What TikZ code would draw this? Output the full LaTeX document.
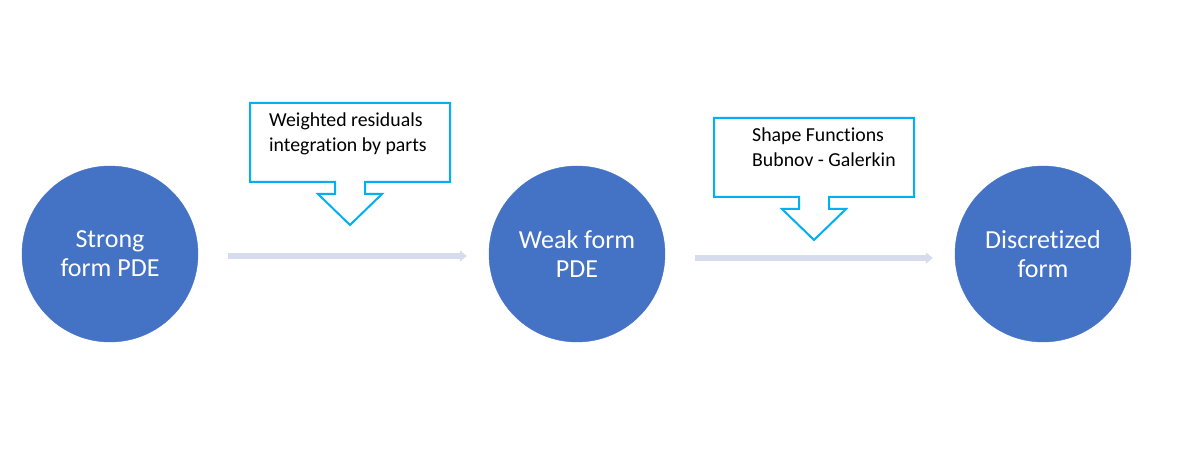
\documentclass[tikz,border=0pt]{standalone}
\usepackage{fontspec}
\setmainfont{Carlito}[Ligatures=NoCommon]
\usetikzlibrary{positioning,arrows.meta}
\definecolor{stageblue}{HTML}{4472C4}
\definecolor{boxline}{HTML}{00B0F0}
\definecolor{flow}{RGB}{214,220,238}

\begin{document}
\begin{tikzpicture}[x=1pt,y=1pt,
	stage/.style={circle,fill=stageblue,draw=stageblue,minimum size=176pt,inner sep=0pt,text=white,align=center,font=\fontsize{26}{29}\selectfont},
	note/.style={anchor=base west,inner sep=0pt,align=left,font=\fontsize{19.8}{25}\selectfont},
	flowline/.style={draw=flow,line width=6pt,-{Triangle[length=7pt,width=11pt]}}]

\useasboundingbox (0,0) rectangle (1187,464);

\newcommand{\callout}[3]{
	\draw[boxline,line width=2pt,line join=miter] (#2-100,#3) -- (#2+100,#3) -- (#2+100,#3-79) -- (#2+15,#3-79) -- (#2+15,#3-91) -- (#2+32,#3-91) -- (#2,#3-122) coordinate (#1) -- (#2-32,#3-91) -- (#2-15,#3-91) -- (#2-15,#3-79) -- (#2-100,#3-79) -- cycle;
}

\node[stage] (strong) at (110,210) {Strong\\form PDE};
\node[stage] (weak) at (577,210) {Weak form\\PDE};
\node[stage] (discr) at (1043,210) {Discretized\\form};

\draw[flowline] ([xshift=30pt,yshift=-2pt]strong.east) -- ([xshift=-22pt,yshift=-2pt]weak.west);
\draw[flowline] ([xshift=30pt,yshift=-4pt]weak.east) -- ([xshift=-22pt,yshift=-4pt]discr.west);

\callout{wr}{350}{361}
\callout{sg}{814}{346}
% base anchor sits on the last line
\node[note] (wrtext) at (269,312) {Weighted residuals\\integration by parts};
\node[note] (sgtext) at (752,297) {Shape Functions\\Bubnov - Galerkin};

\end{tikzpicture}
\end{document}
